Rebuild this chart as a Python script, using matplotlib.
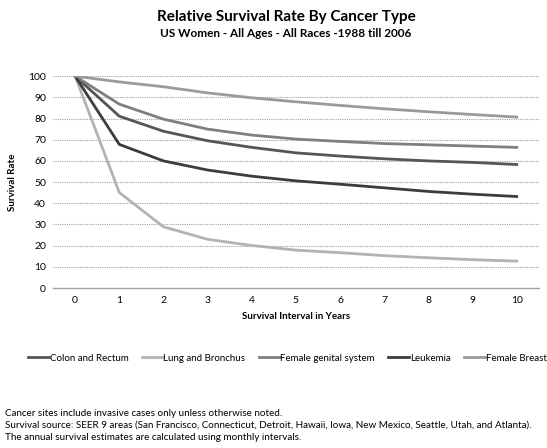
import matplotlib.pyplot as plt

plt.rcParams['font.family'] = ['Lato', 'DejaVu Sans']

years = [0, 1, 2, 3, 4, 5, 6, 7, 8, 9, 10]
colon = [100, 81.1, 74.0, 69.5, 66.4, 63.8, 62.3, 61.0, 60.0, 59.3, 58.3]
lung = [100, 45.1, 28.9, 23.0, 20.1, 17.9, 16.7, 15.3, 14.3, 13.4, 12.7]
genital = [100, 86.8, 79.7, 75.0, 72.2, 70.3, 69.2, 68.2, 67.6, 67.0, 66.4]
leukemia = [100, 67.8, 60.0, 55.7, 52.8, 50.6, 49.0, 47.3, 45.6, 44.3, 43.2]
breast = [100, 97.3, 95.0, 92.1, 89.8, 87.9, 86.2, 84.6, 83.2, 81.9, 80.7]

series = [("Colon and Rectum", colon, "#555555"),
          ("Lung and Bronchus", lung, "#b3b3b3"),
          ("Female genital system", genital, "#7f7f7f"),
          ("Leukemia", leukemia, "#3c3c3c"),
          ("Female Breast", breast, "#9a9a9a")]

fig = plt.figure(figsize=(5.47, 4.48), dpi=100)
ax = fig.add_axes([0.097, 0.357, 0.888, 0.473])

for name, vals, col in series:
    ax.plot(years, vals, color=col, linewidth=2, label=name)

ax.set_xlim(-0.5, 10.5)
ax.set_ylim(0, 100)
ax.set_xticks(years)
ax.set_yticks(range(0, 101, 10))
ax.tick_params(length=0, labelsize=7.5, colors="black")
ax.tick_params(axis="x", pad=6)
ax.tick_params(axis="y", pad=5)
for y in range(10, 101, 10):
    ax.axhline(y, color="#a0a0a0", linestyle=(0, (1, 1)), linewidth=0.8, zorder=0)
for s in ["top", "right", "left"]:
    ax.spines[s].set_visible(False)
ax.spines["bottom"].set_color("#a0a0a0")
ax.spines["bottom"].set_linewidth(1)

ax.set_xlabel("Survival Interval in Years", fontsize=7, fontweight="bold", labelpad=5)
ax.set_ylabel("Survival Rate", fontsize=7, fontweight="bold", labelpad=8)

fig.text(0.523, 0.962, "Relative Survival Rate By Cancer Type", ha="center", va="center",
         fontsize=11, fontweight="bold")
fig.text(0.522, 0.925, "US Women - All Ages - All Races -1988 till 2006", ha="center", va="center",
         fontsize=8.5, fontweight="bold")

fig.legend(loc="center", bbox_to_anchor=(0.525, 0.2), ncol=5, frameon=False, fontsize=7,
           handlelength=2.2, handletextpad=0.05, columnspacing=1.35)

notes = ["Cancer sites include invasive cases only unless otherwise noted.",
         "Survival source: SEER 9 areas (San Francisco, Connecticut, Detroit, Hawaii, Iowa, New Mexico, Seattle, Utah, and Atlanta).",
         "The annual survival estimates are calculated using monthly intervals."]
for i, t in enumerate(notes):
    fig.text(0.009, 1 - (413 + 12 * i) / 448, t, fontsize=7.1, va="center", ha="left")

fig.savefig("out.png", dpi=100)
